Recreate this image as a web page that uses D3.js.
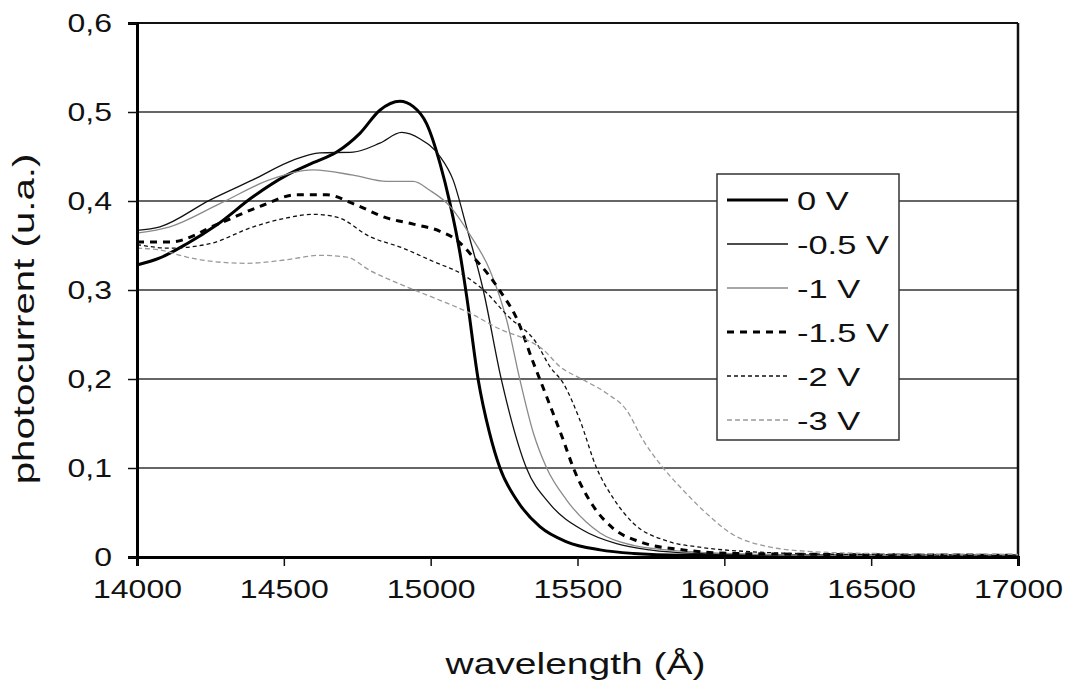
<!DOCTYPE html>
<html>
<head>
<meta charset="utf-8">
<script src="https://cdn.jsdelivr.net/npm/d3@7"></script>
<style>
  body { margin: 0; background: #fff; }
  text { font-family: "Liberation Sans", Arial, sans-serif; fill: #111; }
</style>
</head>
<body>
<svg id="chart" width="1078" height="683"></svg>
<script>
// readings: [wavelength (Å), photocurrent (u.a.)]
const curve0V = [[14000,0.328],[14078,0.336],[14170,0.352],[14271,0.373],[14396,0.405],[14510,0.429],[14600,0.443],[14680,0.455],[14759,0.476],[14827,0.502],[14895,0.512],[14941,0.506],[14986,0.487],[15032,0.442],[15066,0.397],[15100,0.341],[15123,0.292],[15162,0.199],[15200,0.140],[15236,0.100],[15293,0.064],[15372,0.034],[15463,0.017],[15577,0.008],[15690,0.004],[15850,0.002],[16000,0.002],[16500,0.001],[17000,0.001]];
const curve05V = [[14000,0.367],[14078,0.371],[14248,0.401],[14396,0.424],[14532,0.446],[14623,0.454],[14736,0.455],[14827,0.465],[14901,0.477],[14963,0.470],[15032,0.450],[15076,0.424],[15122,0.371],[15179,0.300],[15241,0.199],[15326,0.100],[15405,0.060],[15519,0.030],[15633,0.015],[15746,0.008],[15900,0.004],[16200,0.002],[17000,0.001]];
const curve1V = [[14000,0.364],[14112,0.371],[14282,0.397],[14453,0.424],[14600,0.435],[14736,0.429],[14850,0.422],[14941,0.422],[14997,0.412],[15066,0.394],[15134,0.362],[15202,0.322],[15259,0.266],[15304,0.199],[15350,0.139],[15395,0.100],[15463,0.064],[15577,0.027],[15690,0.013],[15804,0.008],[16000,0.004],[16300,0.002],[17000,0.001]];
const curve15V = [[14000,0.354],[14112,0.354],[14282,0.375],[14419,0.394],[14544,0.407],[14646,0.407],[14736,0.397],[14850,0.381],[14941,0.374],[15032,0.366],[15089,0.356],[15145,0.337],[15202,0.315],[15236,0.299],[15293,0.268],[15350,0.218],[15395,0.180],[15452,0.131],[15486,0.100],[15554,0.057],[15622,0.032],[15713,0.017],[15860,0.008],[16030,0.004],[16300,0.003],[17000,0.002]];
const curve2V = [[14000,0.351],[14112,0.347],[14248,0.352],[14396,0.371],[14510,0.381],[14600,0.385],[14680,0.382],[14793,0.360],[14906,0.347],[15009,0.332],[15111,0.317],[15190,0.297],[15259,0.272],[15361,0.240],[15406,0.214],[15452,0.195],[15508,0.154],[15565,0.100],[15622,0.066],[15690,0.038],[15804,0.018],[15917,0.011],[16087,0.006],[16400,0.003],[17000,0.002]];
const curve3V = [[14000,0.347],[14078,0.345],[14169,0.337],[14259,0.332],[14373,0.330],[14510,0.334],[14623,0.339],[14714,0.337],[14793,0.322],[14900,0.306],[15020,0.290],[15134,0.274],[15236,0.256],[15327,0.244],[15383,0.233],[15440,0.214],[15520,0.199],[15599,0.184],[15667,0.165],[15724,0.131],[15792,0.100],[15860,0.075],[15939,0.049],[16030,0.025],[16143,0.012],[16257,0.007],[16500,0.004],[17000,0.003]];

const seriesNames = ["0 V", "-0.5 V", "-1 V", "-1.5 V", "-2 V", "-3 V"];
const seriesData = [curve0V, curve05V, curve1V, curve15V, curve2V, curve3V];
const xTicks = [14000, 14500, 15000, 15500, 16000, 16500, 17000];
const yTicks = [0, 0.1, 0.2, 0.3, 0.4, 0.5, 0.6];

// line look per series
const styles = [
  { color: "#000", width: 3, dash: null },
  { color: "#111", width: 1.3, dash: null },
  { color: "#8a8a8a", width: 1.3, dash: null },
  { color: "#000", width: 3, dash: "7,6" },
  { color: "#111", width: 1.3, dash: "4,3" },
  { color: "#9a9a9a", width: 1.3, dash: "5,3" }
];

const margin = { top: 23, right: 60, bottom: 126, left: 137 };
const width = 1078 - margin.left - margin.right;
const height = 683 - margin.top - margin.bottom;
const stretch = 1.28; // the original lettering is wide

const svg = d3.select("#chart")
  .append("g")
  .attr("transform", `translate(${margin.left}, ${margin.top})`);

const x = d3.scaleLinear().domain([14000, 17000]).range([0, width]);
const y = d3.scaleLinear().domain([0, 0.6]).range([height, 0]);

// gridlines
svg.append("g")
  .selectAll("line")
  .data(yTicks.filter(t => t > 0 && t < 0.6))
  .enter()
  .append("line")
  .attr("x1", 0).attr("x2", width)
  .attr("y1", d => y(d)).attr("y2", d => y(d))
  .attr("stroke", "#333")
  .attr("stroke-width", 1.3);

// top and right border
svg.append("line")
  .attr("x1", 0).attr("x2", width)
  .attr("y1", y(0.6)).attr("y2", y(0.6))
  .attr("stroke", "#111").attr("stroke-width", 2);
svg.append("line")
  .attr("x1", width).attr("x2", width)
  .attr("y1", y(0.6)).attr("y2", y(0))
  .attr("stroke", "#111").attr("stroke-width", 2.5);

const line = d3.line()
  .x(d => x(d[0]))
  .y(d => y(d[1]))
  .curve(d3.curveMonotoneX);

svg.append("g")
  .selectAll("path")
  .data(seriesData)
  .enter()
  .append("path")
  .attr("d", d => line(d))
  .attr("fill", "none")
  .attr("stroke", (d, i) => styles[i].color)
  .attr("stroke-width", (d, i) => styles[i].width)
  .attr("stroke-dasharray", (d, i) => styles[i].dash)
  .attr("stroke-linejoin", "round");

// axes
const xAxis = svg.append("g")
  .attr("transform", `translate(0, ${height})`)
  .call(d3.axisBottom(x).tickValues(xTicks).tickSize(9).tickPadding(14).tickFormat(d3.format("d")));

const yAxis = svg.append("g")
  .call(d3.axisLeft(y).tickValues(yTicks).tickSize(9).tickPadding(16).tickFormat(d => d3.format(".1f")(d).replace(".", ",").replace(/^0,0$/, "0")));

[xAxis, yAxis].forEach(ax => {
  ax.select(".domain").attr("stroke", "#000").attr("stroke-width", 3);
  ax.selectAll(".tick line").attr("stroke", "#111").attr("stroke-width", 1.5);
  ax.selectAll(".tick text")
    .style("font-size", "25px")
    .attr("fill", "#111");
});
xAxis.selectAll(".tick text").attr("transform", `scale(${stretch}, 1)`);
yAxis.selectAll(".tick text")
  .attr("x", -25 / stretch)
  .attr("transform", `scale(${stretch}, 1)`);

// axis titles
svg.append("text")
  .attr("transform", `translate(${width / 2 - 2}, ${height + 117}) scale(1.3, 1)`)
  .attr("text-anchor", "middle")
  .style("font-size", "30px")
  .text("wavelength (Å)");

svg.append("text")
  .attr("transform", `translate(${34 - margin.left}, ${height / 2 + 29}) rotate(-90) scale(1.34, 1)`)
  .attr("text-anchor", "middle")
  .style("font-size", "30px")
  .text("photocurrent (u.a.)");

// legend
const legend = svg.append("g")
  .attr("transform", `translate(${717 - margin.left}, ${174 - margin.top})`);

legend.append("rect")
  .attr("width", 182)
  .attr("height", 266)
  .attr("fill", "#fff")
  .attr("stroke", "#333")
  .attr("stroke-width", 1.5);

const items = legend.selectAll(".item")
  .data(seriesNames)
  .enter()
  .append("g")
  .attr("class", "item")
  .attr("transform", (d, i) => `translate(0, ${26 + i * 44})`);

items.append("line")
  .attr("x1", 10).attr("x2", 71)
  .attr("y1", 0).attr("y2", 0)
  .attr("stroke", (d, i) => styles[i].color)
  .attr("stroke-width", (d, i) => styles[i].width)
  .attr("stroke-dasharray", (d, i) => styles[i].dash);

items.append("text")
  .attr("transform", `translate(80, 0) scale(1.3, 1)`)
  .attr("dy", "0.36em")
  .style("font-size", "26.5px")
  .text(d => d);
</script>
</body>
</html>
